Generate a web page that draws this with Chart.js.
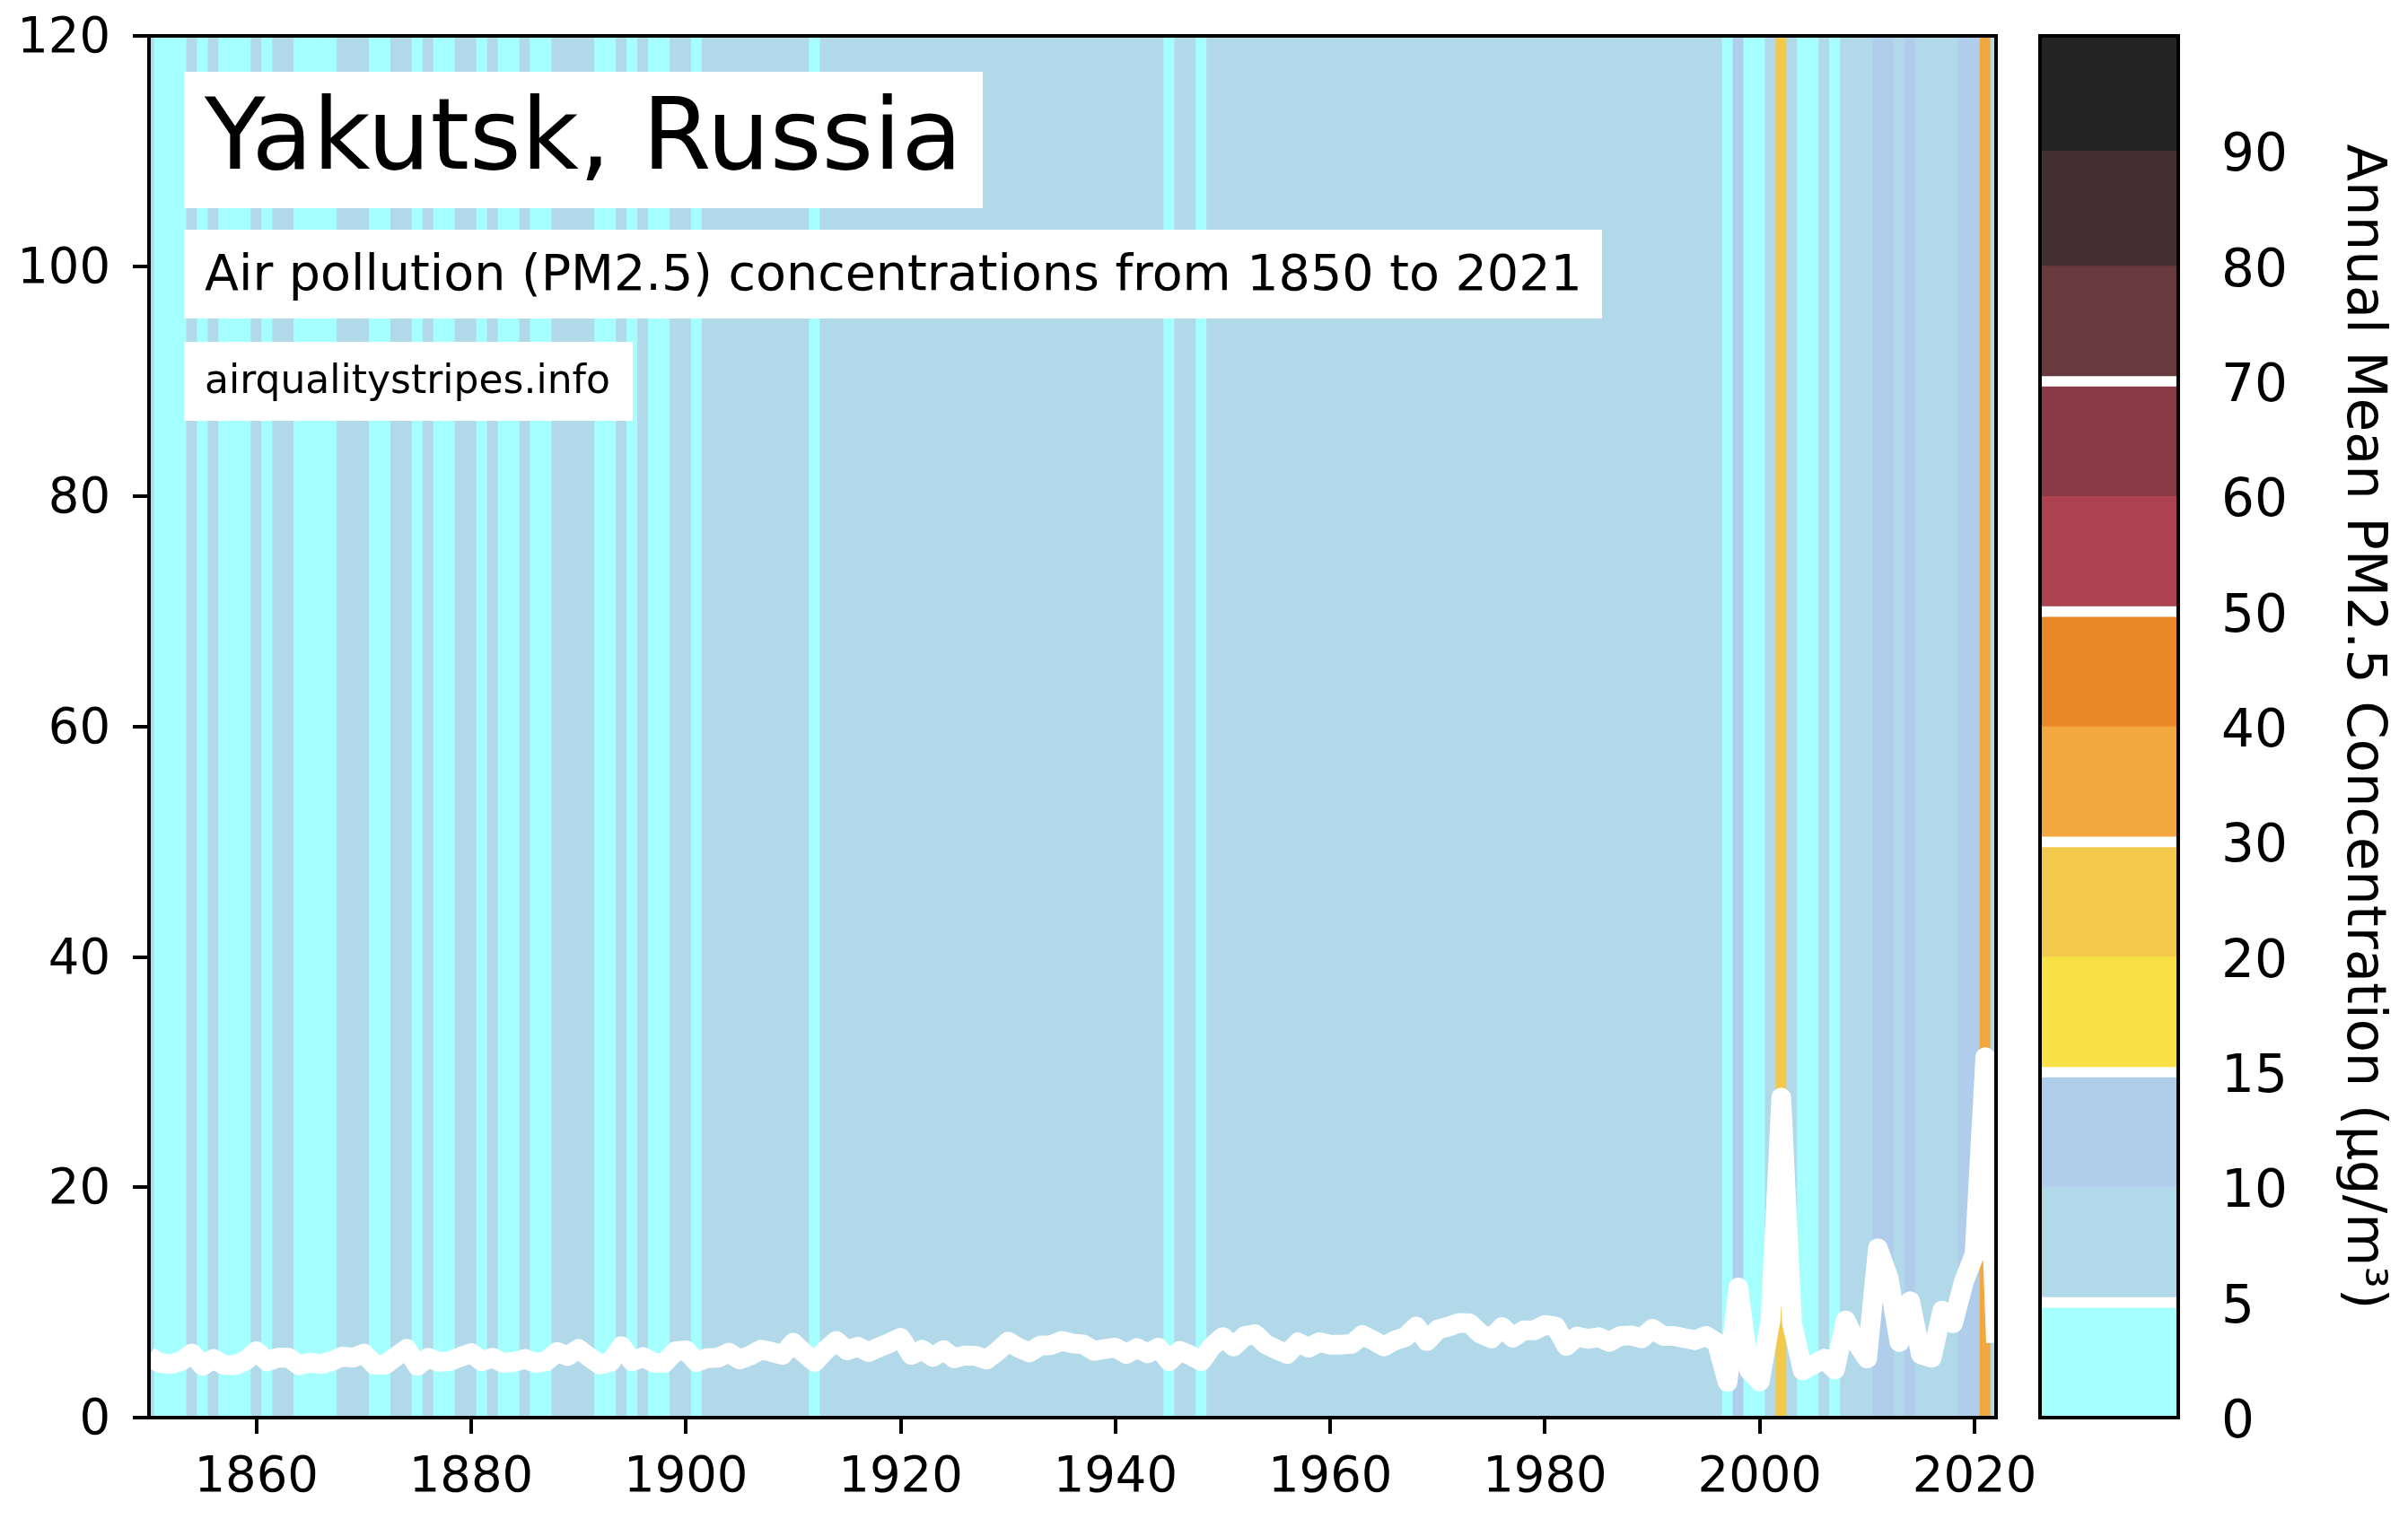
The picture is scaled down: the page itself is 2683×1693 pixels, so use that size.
<!DOCTYPE html>
<html>
<head>
<meta charset="utf-8">
<title>Yakutsk, Russia</title>
<script src="https://cdn.jsdelivr.net/npm/chart.js@4"></script>
<style>
  html, body { margin: 0; padding: 0; background: #fff; }
  canvas { position: absolute; top: 0; }
  #stripes { left: 0; }
  #colorbar { left: 2240px; }
</style>
</head>
<body>
<canvas id="stripes" width="2683" height="1693"></canvas>
<canvas id="colorbar" width="443" height="1693"></canvas>
<script>
var firstYear = 1850;

// annual mean PM2.5, one value per year from 1850
var pm25 = [
  5.3, 4.75, 4.65, 4.9, 5.58, 4.5, 5.1, 4.57, 4.55, 4.95,
  5.77, 4.88, 5.2, 5.2, 4.55, 4.77, 4.65, 4.9, 5.3, 5.2,
  5.56, 4.6, 4.6, 5.3, 5.97, 4.5, 5.2, 4.83, 4.9, 5.27,
  5.6, 4.9, 5.2, 4.75, 4.85, 5.1, 4.75, 4.9, 5.7, 5.35,
  5.97, 5.25, 4.6, 4.85, 6.2, 4.88, 5.25, 4.78, 4.75, 5.75,
  5.85, 4.83, 5.17, 5.2, 5.64, 5.05, 5.4, 5.9, 5.7, 5.45,
  6.5, 5.6, 4.83, 5.85, 6.67, 5.85, 6.15, 5.7, 6.1, 6.5,
  6.93, 5.45, 5.9, 5.27, 5.85, 5.15, 5.4, 5.35, 5.05, 5.75,
  6.6, 6.05, 5.66, 6.26, 6.3, 6.67, 6.44, 6.36, 5.8, 5.95,
  6.08, 5.53, 6.03, 5.58, 6.08, 4.9, 5.8, 5.4, 4.9, 6.2,
  7.0, 6.18, 7.06, 7.25, 6.36, 5.92, 5.53, 6.52, 6.08, 6.55,
  6.34, 6.34, 6.4, 7.17, 6.7, 6.18, 6.7, 7.0, 7.9, 6.65,
  7.64, 7.9, 8.23, 8.18, 7.27, 6.88, 7.87, 6.93, 7.58, 7.58,
  8.05, 7.9, 6.23, 7.04, 6.83, 6.99, 6.57, 7.09, 7.14, 6.88,
  7.71, 7.1, 7.1, 6.9, 6.73, 7.1, 6.5, 3.1, 11.3, 4.15,
  3.14, 8.5, 27.8, 8.2, 4.1, 4.62, 5.1, 4.18, 8.44, 6.5,
  5.14, 14.7, 12.1, 6.57, 10.1, 5.5, 5.2, 9.3, 8.2, 11.8,
  14.2, 31.3, 6.5
];

var xTicks = [1860, 1880, 1900, 1920, 1940, 1960, 1980, 2000, 2020];
var yTicks = [0, 20, 40, 60, 80, 100, 120];

// colour bands, lower edge of each one, bottom to top
var bandEdges = [0, 5, 10, 15, 20, 30, 40, 50, 60, 70, 80, 90];
var bandColors = ['#a6ffff', '#b1d9e9', '#b0ceec', '#f9e145', '#f3c94b', '#f2a83f',
                  '#e88826', '#ad4250', '#883a47', '#683a3e', '#443033', '#242424'];
var guideLevels = [5, 15, 30, 50, 70];

var titleText = 'Yakutsk, Russia';
var subtitleText = 'Air pollution (PM2.5) concentrations from 1850 to 2021';
var sourceText = 'airqualitystripes.info';
var barLabel = 'Annual Mean PM2.5 Concentration (µg/m³)';

var fontName = '"DejaVu Sans"';
var tickFont = { family: fontName, size: 54.4 };
var barTickFont = { family: fontName, size: 58 };
var barLabelFont = { family: fontName, size: 60.8 };

function bandColor(v) {
  var c = bandColors[0];
  bandEdges.forEach(function (e, i) { if (v >= e) c = bandColors[i]; });
  return c;
}

// chart.js wants room for half a label at the axis ends, the frame here is fixed
function noEndPadding(s) {
  s.paddingTop = 0;
  s.paddingBottom = 0;
  s.paddingLeft = 0;
  s.paddingRight = 0;
}

// the frame of the axes, all four sides
var frame = {
  id: 'frame',
  afterDatasetsDraw: function (chart) {
    var a = chart.chartArea, ctx = chart.ctx;
    ctx.save();
    ctx.strokeStyle = '#000';
    ctx.lineWidth = 4;
    ctx.strokeRect(a.left, a.top, a.right - a.left, a.bottom - a.top);
    ctx.restore();
  }
};

// white boxes with the headings
var headings = {
  id: 'headings',
  afterDraw: function (chart) {
    var ctx = chart.ctx;
    var boxes = [
      { text: titleText, size: 110.9, top: 80, bottom: 232, right: 1095, base: 188 },
      { text: subtitleText, size: 55.5, top: 256, bottom: 355, right: 1785, base: 323 },
      { text: sourceText, size: 44, top: 381, bottom: 469, right: 705, base: 438 }
    ];
    ctx.save();
    boxes.forEach(function (b) {
      ctx.fillStyle = '#fff';
      ctx.fillRect(205, b.top, b.right - 205, b.bottom - b.top);
      ctx.fillStyle = '#000';
      ctx.font = b.size + 'px ' + fontName;
      ctx.textAlign = 'left';
      ctx.textBaseline = 'alphabetic';
      ctx.fillText(b.text, 228, b.base);
    });
    ctx.restore();
  }
};

var points = pm25.map(function (v, i) { return { x: firstYear + i, y: v }; });
var stripes = pm25.map(function (v, i) { return { x: firstYear + i, y: 120 }; });

new Chart(document.getElementById('stripes'), {
  type: 'bar',
  data: {
    datasets: [{
      type: 'line',
      data: points,
      borderColor: '#fff',
      borderWidth: 22,
      borderJoinStyle: 'round',
      borderCapStyle: 'butt',
      tension: 0,
      pointRadius: 0,
      clip: 0,
      order: 0
    }, {
      type: 'bar',
      data: stripes,
      backgroundColor: pm25.map(bandColor),
      barPercentage: 1,
      categoryPercentage: 1,
      clip: 0,
      order: 1
    }]
  },
  options: {
    responsive: false,
    animation: false,
    devicePixelRatio: 1,
    layout: { padding: { left: 0, right: 459, top: 40, bottom: 0 } },
    plugins: { legend: { display: false }, tooltip: { enabled: false } },
    scales: {
      x: {
        type: 'linear',
        min: 1850,
        max: 2022,
        offset: false,
        border: { display: false },
        grid: { offset: false, drawOnChartArea: false, color: '#000', lineWidth: 4, tickLength: 18 },
        ticks: {
          color: '#000', font: tickFont, padding: 17, maxRotation: 0, autoSkip: false,
          callback: function (v) { return String(v); }
        },
        afterBuildTicks: function (s) { s.ticks = xTicks.map(function (v) { return { value: v }; }); },
        afterFit: function (s) { s.height = 113; noEndPadding(s); }
      },
      y: {
        min: 0,
        max: 120,
        border: { display: false },
        grid: { drawOnChartArea: false, color: '#000', lineWidth: 4, tickLength: 18 },
        ticks: { color: '#000', font: tickFont, padding: 25, labelOffset: 4 },
        afterBuildTicks: function (s) { s.ticks = yTicks.map(function (v) { return { value: v }; }); },
        afterFit: function (s) { s.width = 166; noEndPadding(s); }
      }
    }
  },
  plugins: [frame, headings]
});

// colour bar: evenly spaced bands, so its scale counts bands
var barSets = bandColors.map(function (c, i) {
  return { data: [[i, i + 1]], backgroundColor: c, grouped: false, barPercentage: 1, categoryPercentage: 1, order: 1 };
});
guideLevels.forEach(function (g) {
  var i = bandEdges.indexOf(g);
  barSets.push({ data: [[i - 0.043, i + 0.043]], backgroundColor: '#fff', grouped: false, barPercentage: 1, categoryPercentage: 1, order: 0 });
});

new Chart(document.getElementById('colorbar'), {
  type: 'bar',
  data: { labels: [''], datasets: barSets },
  options: {
    responsive: false,
    animation: false,
    devicePixelRatio: 1,
    layout: { padding: { left: 33, right: 0, top: 40, bottom: 113 } },
    plugins: { legend: { display: false }, tooltip: { enabled: false } },
    scales: {
      x: { display: false },
      y: {
        position: 'right',
        min: 0,
        max: bandColors.length,
        border: { display: false },
        grid: { display: false },
        ticks: {
          color: '#000', font: barTickFont, padding: 40, labelOffset: 7,
          callback: function (v) { return String(bandEdges[v]); }
        },
        title: { display: true, text: barLabel, color: '#000', font: barLabelFont, padding: { top: 15, bottom: 0 } },
        afterBuildTicks: function (s) { s.ticks = bandEdges.map(function (e, i) { return { value: i }; }); },
        afterFit: function (s) { s.width = 256; noEndPadding(s); }
      }
    }
  },
  plugins: [frame]
});
</script>
</body>
</html>
